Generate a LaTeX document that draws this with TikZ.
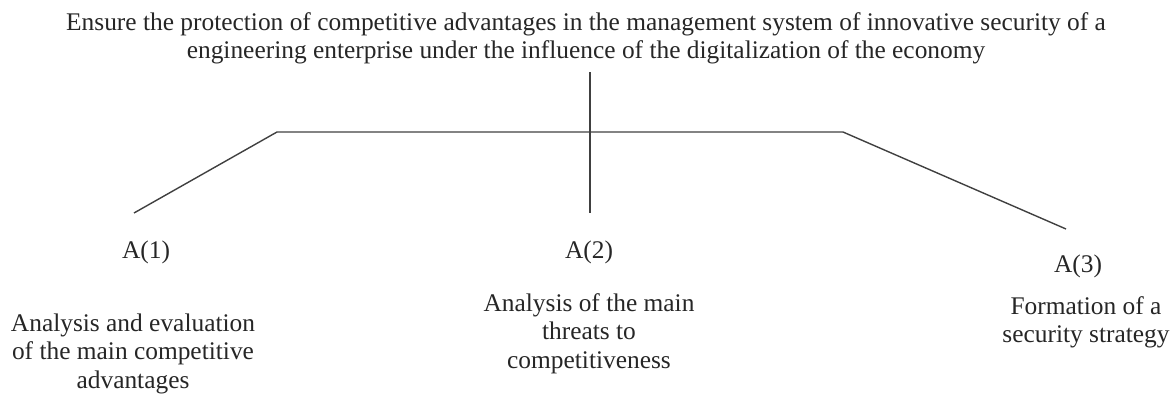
\documentclass[tikz,border=0pt]{standalone}
\usepackage{fontspec}
\setmainfont{Liberation Serif}
\begin{document}
\begin{tikzpicture}[x=1pt,y=-1pt,
  lbl/.style={inner sep=0pt, outer sep=0pt, align=center, anchor=base,
    font=\fontsize{25.4}{28.8}\selectfont, text=black!85},
  conn/.style={draw=black!75, line width=1.4pt}]
\useasboundingbox (0,0) rectangle (1174,396);
% base anchor of a multi-line node = baseline of its last line
\node[lbl] (title) at (586,59) {Ensure the protection of competitive advantages in the management system of innovative security of a\\engineering enterprise under the influence of the digitalization of the economy};
\node[lbl] (a1) at (146,258) {A(1)};
\node[lbl] (a2) at (589,258) {A(2)};
\node[lbl] (a3) at (1078,272) {A(3)};
\node[lbl] (t1) at (133,388.6) {Analysis and evaluation\\of the main competitive\\advantages};
\node[lbl] (t2) at (589,368.6) {Analysis of the main\\threats to\\competitiveness};
\node[lbl] (t3) at (1086,342.8) {Formation of a\\security strategy};
\coordinate (vtop) at (590,72);
\coordinate (vbot) at (590,213);
\coordinate (hl) at (277,132);
\coordinate (hr) at (843,132);
\coordinate (e1) at (134,213);
\coordinate (e3) at (1066,229);
\draw[conn] (vtop) -- (vbot);
\draw[conn, line join=miter] (e1) -- (hl) -- (hr) -- (e3);
\end{tikzpicture}
\end{document}
